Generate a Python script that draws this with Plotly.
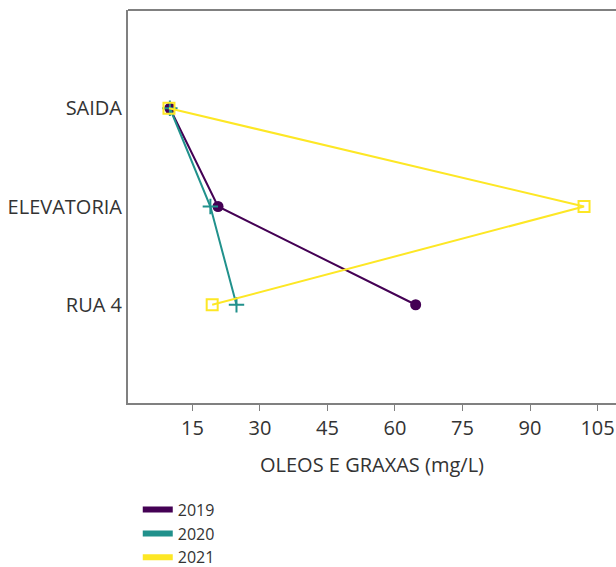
import plotly.graph_objects as go

categories = ["SAIDA", "ELEVATORIA", "RUA 4"]
years = ["2019", "2020", "2021"]
values_2019 = [10.0, 20.7, 64.6]
values_2020 = [10.0, 19.0, 24.8]
values_2021 = [9.8, 102.0, 19.4]
colors = ["#440154", "#21918c", "#fde725"]
symbols = ["circle", "cross-thin-open", "square-open"]

series = [values_2019, values_2020, values_2021]

fig = go.Figure()
for yr, vals, col, sym in zip(years, series, colors, symbols):
    marker = dict(color=col, size=11, symbol=sym)
    if sym != "circle":
        marker["line"] = dict(color=col, width=2)
        marker["size"] = 11
    fig.add_trace(go.Scatter(x=vals, y=categories, mode="lines+markers",
                             line=dict(color=col, width=2), marker=marker,
                             showlegend=False, name=yr))
for yr, col in zip(years, colors):
    fig.add_trace(go.Scatter(x=[None], y=[None], mode="lines", name=yr,
                             line=dict(color=col, width=6)))

font = "Open Sans"
txt = "#333333"
fs = 20
fig.update_layout(
    width=616, height=567,
    margin=dict(l=128, r=0, t=10, b=164, autoexpand=False),
    paper_bgcolor="white", plot_bgcolor="white",
    font=dict(family=font, size=fs, color=txt),
    legend=dict(x=0.02, xanchor="left", yref="container", y=0.131, yanchor="top",
                font=dict(family=font, size=16, color=txt), tracegroupgap=0,
                itemclick=False),
    shapes=[dict(type="line", xref="paper", yref="paper", x0=0, x1=1, y0=1, y1=1,
                 line=dict(color="#808080", width=2))],
)
fig.update_xaxes(range=[0.7, 109.1], tick0=0, dtick=15, showgrid=False, zeroline=False,
                 showline=True, linecolor="#808080", linewidth=2,
                 ticks="outside", ticklen=6, tickcolor="#808080", tickwidth=1,
                 tickfont=dict(family=font, size=fs, color=txt),
                 title=dict(text="OLEOS E GRAXAS (mg/L)", standoff=18,
                            font=dict(family=font, size=fs, color=txt)),
                 automargin=False)
fig.update_yaxes(type="category", categoryarray=categories[::-1], categoryorder="array",
                 range=[-1, 3], showgrid=False, zeroline=False,
                 showline=True, linecolor="#808080", linewidth=2, ticks="",
                 tickfont=dict(family=font, size=fs, color=txt),
                 ticklabelstandoff=0, automargin=False)

fig.write_html("out.html")
